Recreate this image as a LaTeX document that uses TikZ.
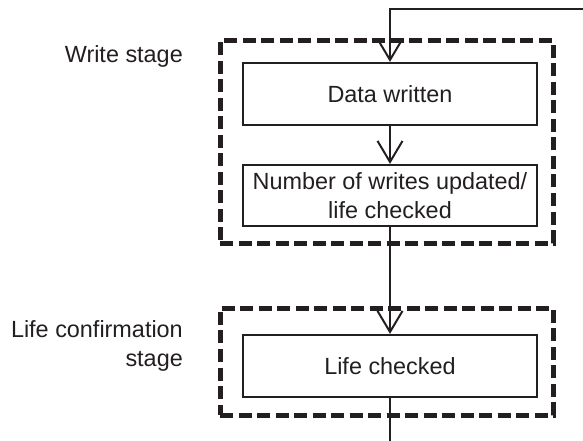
\documentclass[tikz,border=0pt]{standalone}
\usepackage{fontspec}
\setmainfont{Liberation Sans}
\usetikzlibrary{arrows.meta}
\definecolor{ink}{RGB}{35,31,32}
\begin{document}
\begin{tikzpicture}[x=1bp,y=1bp,
  every node/.style={text=ink},
  procbox/.style={draw=ink,line width=2.2bp,minimum width=294bp,minimum height=62bp,inner sep=0pt,align=center,
    font=\fontsize{23.5}{29}\selectfont},
  stagebox/.style={draw=ink,line width=5bp,dash pattern=on 13bp off 5.5bp,minimum width=333bp,inner sep=0pt},
  stagelabel/.style={align=right,inner sep=0pt,font=\fontsize{23.5}{29}\selectfont},
  flow/.style={draw=ink,line width=2bp,-{Straight Barb[length=21bp,width=25bp,line width=2bp]}},
  plain/.style={draw=ink,line width=2bp}]
\useasboundingbox (0,0) rectangle (583,-441);
% stage frames
\node[stagebox,minimum height=202bp] (ws) at (386.5,-142) {};
\node[stagebox,minimum height=107bp] (lcs) at (386.5,-361.5) {};
% process boxes
\node[procbox] (data) at (390,-94) {Data written};
\node[procbox,minimum height=61bp] (num) at (390,-195.5) {Number of writes updated/\\life checked};
\node[procbox] (life) at (390,-366) {Life checked};
% labels
\node[stagelabel,anchor=base east] (wl) at (183,-63) {Write stage};
\node[stagelabel,anchor=north east] (ll) at (183,-320) {Life confirmation\\stage};
% connectors
\coordinate (in) at (583,-9);
\coordinate (out) at (390,-441);
\draw[flow] (in) -| (data.north);
\draw[flow] (data.south) -- (num.north);
\draw[flow] (num.south) -- (life.north);
\draw[plain] (life.south) -- (out);
\end{tikzpicture}
\end{document}
